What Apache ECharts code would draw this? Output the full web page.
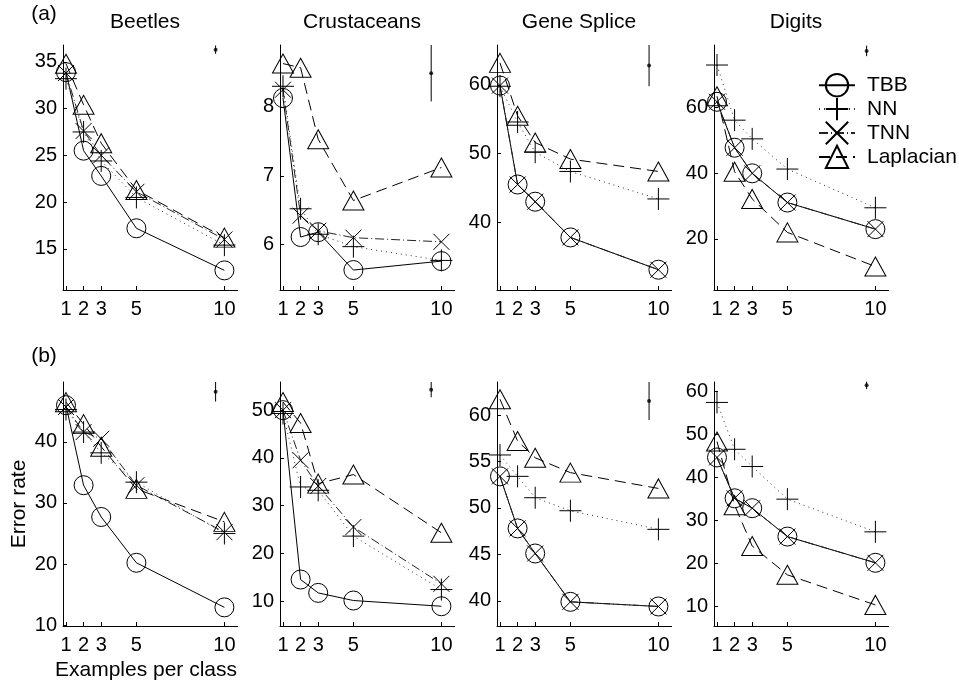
<!DOCTYPE html>
<html><head><meta charset="utf-8">
<script src="https://cdn.jsdelivr.net/npm/echarts@6/dist/echarts.min.js"></script>
<style>html,body{margin:0;padding:0;background:#fff}#chart{width:959px;height:685px}</style>
</head><body><div id="chart"></div>
<script>
// ---------------- DATA ----------------
const examplesPerClass = [1, 2, 3, 5, 10];
const methods = ['TBB', 'NN', 'TNN', 'Laplacian'];
const panelTitles = ['Beetles', 'Crustaceans', 'Gene Splice', 'Digits'];

// row (a)
const beetlesA_TBB = [33.9, 25.5, 22.8, 17.2, 12.7];
const beetlesA_NN  = [33.2, 27.5, 24.4, 20.5, 15.4];
const beetlesA_TNN = [33.8, 27.6, 25.0, 21.1, 16.0];
const beetlesA_Lap = [34.8, 30.4, 26.3, 21.3, 16.2];

const crustA_TBB = [8.13, 6.11, 6.18, 5.63, 5.76];
const crustA_NN  = [8.30, 6.52, 6.15, 5.97, 5.77];
const crustA_TNN = [8.25, 6.42, 6.20, 6.10, 6.04];
const crustA_Lap = [8.63, 8.57, 7.53, 6.64, 7.12];

const geneA_TBB = [59.9, 45.5, 43.0, 37.8, 33.1];
const geneA_NN  = [59.8, 54.6, 50.2, 47.4, 43.4];
const geneA_TNN = [59.9, 45.5, 43.0, 37.8, 33.1];
const geneA_Lap = [63.2, 55.5, 51.6, 49.2, 47.4];

const digitsA_TBB = [61.8, 47.8, 40.0, 31.1, 23.0];
const digitsA_NN  = [73.0, 56.2, 50.5, 41.3, 29.5];
const digitsA_TNN = [61.8, 47.8, 40.0, 31.1, 23.0];
const digitsA_Lap = [63.5, 40.5, 32.2, 22.0, 11.6];

// row (b)
const beetlesB_TBB = [46.0, 32.9, 27.7, 20.2, 12.9];
const beetlesB_NN  = [45.3, 41.6, 38.2, 33.4, 25.0];
const beetlesB_TNN = [45.7, 41.6, 40.5, 32.9, 25.2];
const beetlesB_Lap = [46.5, 42.9, 39.2, 32.3, 26.9];

const crustB_TBB = [50.0, 14.5, 11.7, 10.1, 8.9];
const crustB_NN  = [49.3, 33.9, 33.2, 23.6, 12.4];
const crustB_TNN = [50.0, 39.5, 34.1, 25.5, 13.6];
const crustB_Lap = [51.7, 47.3, 34.6, 36.5, 24.3];

const geneB_TBB = [53.4, 47.8, 45.1, 39.9, 39.4];
const geneB_NN  = [55.7, 53.4, 51.1, 49.7, 47.7];
const geneB_TNN = [53.4, 47.8, 45.1, 39.9, 39.4];
const geneB_Lap = [61.7, 57.2, 55.4, 53.8, 52.1];

const digitsB_TBB = [44.7, 35.2, 32.9, 26.3, 20.2];
const digitsB_NN  = [57.5, 46.6, 42.6, 35.0, 27.4];
const digitsB_TNN = [44.7, 35.2, 32.9, 26.3, 20.2];
const digitsB_Lap = [48.4, 33.6, 24.1, 17.4, 10.4];

// error bars (top right of each panel)
const errX       = [9.5, 9.42, 9.47, 9.5];
const errA_mid   = [36.3, 8.49, 62.8, 77.3];
const errA_half  = [0.45, 0.41, 3.0, 1.6];
const errB_mid   = [48.2, 54.3, 61.5, 61.5];
const errB_half  = [1.6, 1.6, 2.05, 0.9];

// y tick labels
const ticksA = [[15, 20, 25, 30, 35], [6, 7, 8], [40, 50, 60], [20, 40, 60]];
const ticksB = [[10, 20, 30, 40], [10, 20, 30, 40, 50], [40, 45, 50, 55, 60], [10, 20, 30, 40, 50, 60]];

// y axis extents
const yMinA = [10.6, 5.34, 30.15, 4.45];
const yMaxA = [36.8, 8.9, 65.8, 79.1];
const yMinB = [9.85, 4.76, 37.3, 5.5];
const yMaxB = [49.8, 55.9, 63.55, 62.25];

// ---------------- BUILD ----------------
const rowA = [
  [beetlesA_TBB, beetlesA_NN, beetlesA_TNN, beetlesA_Lap],
  [crustA_TBB, crustA_NN, crustA_TNN, crustA_Lap],
  [geneA_TBB, geneA_NN, geneA_TNN, geneA_Lap],
  [digitsA_TBB, digitsA_NN, digitsA_TNN, digitsA_Lap]
];
const rowB = [
  [beetlesB_TBB, beetlesB_NN, beetlesB_TNN, beetlesB_Lap],
  [crustB_TBB, crustB_NN, crustB_TNN, crustB_Lap],
  [geneB_TBB, geneB_NN, geneB_TNN, geneB_Lap],
  [digitsB_TBB, digitsB_NN, digitsB_TNN, digitsB_Lap]
];

const FONT = '"Liberation Sans", Arial, Helvetica, sans-serif';
const colLeft = [63, 280, 497, 714];
const colWidth = 174.6;
const rowTop = [45, 382];
const rowHeight = [245, 244];
const xMin = 0.83, xMax = 10.75;

const symPlus = 'path://M5,0L5,10M0,5L10,5';
const symCross = 'path://M0,0L10,10M10,0L0,10';
const mstyle = [
  { symbol: 'circle', size: 19, type: 'solid', color: '#000' },
  { symbol: symPlus, size: 22, type: [1, 4], color: '#333' },
  { symbol: symCross, size: 16, type: [9, 3, 1, 3], color: '#222' },
  { symbol: 'triangle', size: [21, 19], type: [11, 6], color: '#000' }
];

const grids = [], xAxes = [], yAxes = [], series = [];

function addPanel(r, c, sets, ticks, ymin, ymax, emid, ehalf) {
  const idx = grids.length;
  grids.push({ left: colLeft[c], top: rowTop[r], width: colWidth, height: rowHeight[r], containLabel: false });
  xAxes.push({
    gridIndex: idx, type: 'value', min: xMin, max: xMax,
    axisLine: { show: true, onZero: false, lineStyle: { color: '#000', width: 1 } },
    axisTick: { show: true, inside: true, length: 4, customValues: examplesPerClass, lineStyle: { color: '#000' } },
    axisLabel: { customValues: examplesPerClass, fontSize: 20, color: '#000', margin: 9, fontFamily: FONT },
    splitLine: { show: false }
  });
  yAxes.push({
    gridIndex: idx, type: 'value', min: ymin, max: ymax,
    axisLine: { show: true, onZero: false, lineStyle: { color: '#000', width: 1 } },
    axisTick: { show: true, inside: true, length: 4, customValues: ticks, lineStyle: { color: '#000' } },
    axisLabel: { customValues: ticks, fontSize: 20, color: '#000', margin: 6, fontFamily: FONT },
    splitLine: { show: false }
  });
  sets.forEach((vals, m) => {
    const st = mstyle[m];
    series.push({
      type: 'line', name: methods[m], xAxisIndex: idx, yAxisIndex: idx,
      data: examplesPerClass.map((x, k) => [x, vals[k]]),
      symbol: st.symbol, symbolSize: st.size, showSymbol: true, showAllSymbol: true,
      symbolKeepAspect: false,
      lineStyle: { color: st.color, width: 1, type: st.type },
      itemStyle: { color: 'rgba(0,0,0,0)', borderColor: '#000', borderWidth: 1 },
      emphasis: { disabled: true }, silent: true, animation: false, z: 3
    });
  });
  series.push({
    type: 'line', name: 'err', xAxisIndex: idx, yAxisIndex: idx,
    data: [[errX[c], emid - ehalf], [errX[c], emid + ehalf]],
    symbol: 'none', lineStyle: { color: '#000', width: 1 }, silent: true, animation: false
  });
  series.push({
    type: 'scatter', name: 'errmid', xAxisIndex: idx, yAxisIndex: idx,
    data: [[errX[c], emid]], symbol: 'circle', symbolSize: 4,
    itemStyle: { color: '#000' }, silent: true, animation: false
  });
}

for (let c = 0; c < 4; c++) addPanel(0, c, rowA[c], ticksA[c], yMinA[c], yMaxA[c], errA_mid[c], errA_half[c]);
for (let c = 0; c < 4; c++) addPanel(1, c, rowB[c], ticksB[c], yMinB[c], yMaxB[c], errB_mid[c], errB_half[c]);

function txt(text, x, y, opts) {
  return Object.assign({
    type: 'text', x: x, y: y, silent: true,
    style: { text: text, fontSize: 21, fontFamily: FONT, fill: '#000', align: 'center', verticalAlign: 'middle' }
  }, opts || {});
}
const titleX = [145, 362, 579, 796];
const graphics = [
  txt('(a)', 44, 14),
  txt('(b)', 44, 356),
  txt('Examples per class', 146, 670),
  txt('Error rate', 19, 504, { rotation: Math.PI / 2 })
];
panelTitles.forEach((t, i) => graphics.push(txt(t, titleX[i], 22)));

const chart = echarts.init(document.getElementById('chart'), null, { renderer: 'canvas' });
chart.setOption({
  backgroundColor: '#fff',
  animation: false,
  grid: grids, xAxis: xAxes, yAxis: yAxes, series: series,
  legend: {
    data: methods, orient: 'vertical', left: 818, top: 73,
    itemWidth: 36, itemHeight: 28, itemGap: -0.5, padding: 0, selectedMode: false,
    textStyle: { fontSize: 21, fontFamily: FONT, color: '#000', padding: [0, 0, 0, 7] }
  },
  graphic: graphics
});
</script></body></html>
